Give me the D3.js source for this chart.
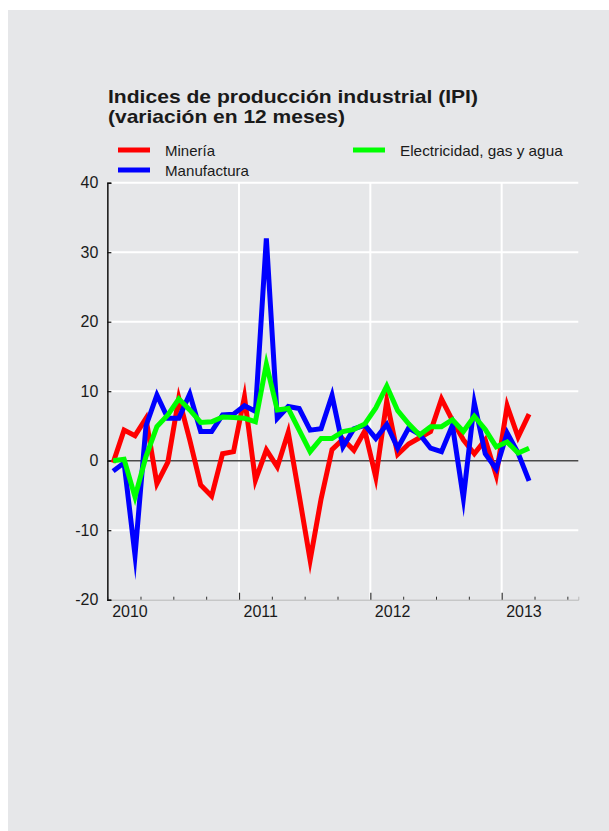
<!DOCTYPE html>
<html>
<head>
<meta charset="utf-8">
<script src="https://cdn.jsdelivr.net/npm/d3@7"></script>
<style>
html,body{margin:0;padding:0;background:#ffffff;}
svg{display:block;}
text{font-family:"Liberation Sans",Arial,sans-serif;fill:#1a1a1a;}
</style>
</head>
<body>
<svg id="chart" width="609" height="831"></svg>
<script>
const title1 = "Indices de producción industrial (IPI)";
const title2 = "(variación en 12 meses)";
const seriesNames = ["Minería", "Manufactura", "Electricidad, gas y agua"];
const seriesColors = ["#ff0000", "#0000ff", "#00ff00"];
const years = ["2010", "2011", "2012", "2013"];
const yTicks = [-20, -10, 0, 10, 20, 30, 40];
// monthly values, Jan 2010 – Mar 2013
const mineria = [-0.3, 4.4, 3.6, 6.1, -3.3, -0.2, 9.0, 3.0, -3.5, -5.1, 1.0, 1.3,
                 9.2, -2.8, 1.55, -0.9, 4.1, -5.0, -14.3, -5.5, 1.6, 3.1, 1.5, 4.3,
                 -2.4, 8.6, 0.9, 2.4, 3.3, 4.2, 8.9, 5.8, 3.0, 1.0, 3.0, -2.1,
                 7.9, 3.4, 6.7];
const manufactura = [-1.5, -0.3, -13.6, 5.0, 9.45, 6.1, 6.1, 9.6, 4.2, 4.2, 6.6, 6.7,
                     7.9, 7.1, 32, 6.1, 7.8, 7.5, 4.4, 4.6, 9.4, 2.0, 4.6, 5.1,
                     3.2, 5.2, 1.8, 4.7, 3.8, 1.8, 1.3, 5.1, -5.4, 8.3, 1.0, -1.2,
                     4.0, 1.1, -2.9];
const electricidad = [0, 0.2, -5.2, 0.6, 4.9, 6.6, 8.9, 7.3, 5.5, 5.6, 6.3, 6.2,
                      6.1, 5.6, 13.9, 7.3, 7.5, 4.4, 1.3, 3.2, 3.2, 4.2, 4.5, 5.3,
                      7.6, 10.75, 7.2, 5.3, 3.7, 4.9, 4.9, 5.9, 4.2, 6.4, 4.5, 2.0,
                      2.7, 1.1, 1.8];
const totalMonths = 43; // Jan 2010 – Jul 2013 axis span

const svg = d3.select("#chart");
svg.append("rect").attr("x", 8).attr("y", 10).attr("width", 601).attr("height", 821).attr("fill", "#e6e7e9");

const L = 107.65, R = 578.3, T = 182.7, B = 599.7;
const x = d3.scaleLinear().domain([0, totalMonths]).range([L, R]);
const y = d3.scaleLinear().domain([-20, 40]).range([B, T]);

// horizontal grid
svg.append("g").selectAll("line").data(yTicks.filter(v => v !== 0 && v !== -20)).join("line")
  .attr("x1", L).attr("x2", R).attr("y1", d => y(d)).attr("y2", d => y(d))
  .attr("stroke", "#ffffff").attr("stroke-width", 2);
// vertical grid at year boundaries
svg.append("g").selectAll("line").data([12, 24, 36]).join("line")
  .attr("x1", d => x(d)).attr("x2", d => x(d)).attr("y1", T).attr("y2", B)
  .attr("stroke", "#ffffff").attr("stroke-width", 2);

// bottom axis
const gx = svg.append("g").attr("transform", `translate(0,${B})`);
gx.call(d3.axisBottom(x).tickValues(d3.range(3, totalMonths, 3).filter(d => d % 12 !== 0)).tickSize(-3).tickFormat(""));
gx.select(".domain").attr("stroke", "#b8b8b8").attr("stroke-width", 1);
gx.selectAll(".tick line").attr("stroke", "#333").attr("stroke-width", 1);
const gx2 = svg.append("g").attr("transform", `translate(0,${B})`);
gx2.call(d3.axisBottom(x).tickValues([12, 24, 36]).tickSize(-7).tickFormat(""));
gx2.select(".domain").remove();
gx2.selectAll(".tick line").attr("stroke", "#333").attr("stroke-width", 1.2);

svg.append("g").selectAll("text").data(years).join("text")
  .attr("x", (d, i) => x(i * 12) + 4.5).attr("y", 616.7)
  .attr("font-size", 16).text(d => d);

// zero line
svg.append("line").attr("x1", L).attr("x2", R).attr("y1", y(0)).attr("y2", y(0))
  .attr("stroke", "#4a4a4a").attr("stroke-width", 1.5);

// left axis
const gy = svg.append("g").attr("transform", `translate(${L - 0.3},0)`);
gy.call(d3.axisLeft(y).tickValues(yTicks).tickSize(-4).tickPadding(9).tickFormat(d => String(d)));
gy.select(".domain").attr("stroke", "#111").attr("stroke-width", 1.5);
gy.selectAll(".tick line").attr("stroke", "#111").attr("stroke-width", 1.2);
gy.selectAll(".tick text").attr("font-size", 16).attr("fill", "#1a1a1a")
  .attr("font-family", '"Liberation Sans",Arial,sans-serif');

// lines
const line = d3.line().x((d, i) => x(i + 0.5)).y(d => y(d));
const data = [mineria, manufactura, electricidad];
data.forEach((s, k) => {
  svg.append("path").datum(s).attr("d", line)
    .attr("fill", "none").attr("stroke", seriesColors[k]).attr("stroke-width", 5)
    .attr("stroke-linejoin", "miter").attr("stroke-miterlimit", 12);
});

// title
svg.append("text").attr("x", 108).attr("y", 103).attr("font-size", 18.5).attr("font-weight", "bold")
  .attr("textLength", 370).attr("lengthAdjust", "spacingAndGlyphs").text(title1);
svg.append("text").attr("x", 108).attr("y", 123).attr("font-size", 18.5).attr("font-weight", "bold")
  .attr("textLength", 237).attr("lengthAdjust", "spacingAndGlyphs").text(title2);

// legend
const legendPos = [{lx: 118, ly: 150, tx: 165, ty: 156, w: 50}, {lx: 118, ly: 170, tx: 165, ty: 175.7, w: 84}, {lx: 353, ly: 150, tx: 400, ty: 156, w: 162.7}];
legendPos.forEach((p, k) => {
  svg.append("line").attr("x1", p.lx).attr("x2", p.lx + 32).attr("y1", p.ly).attr("y2", p.ly)
    .attr("stroke", seriesColors[k]).attr("stroke-width", 5);
  svg.append("text").attr("x", p.tx).attr("y", p.ty).attr("font-size", 14.4)
    .attr("textLength", p.w).attr("lengthAdjust", "spacingAndGlyphs").text(seriesNames[k]);
});
</script>
</body>
</html>
